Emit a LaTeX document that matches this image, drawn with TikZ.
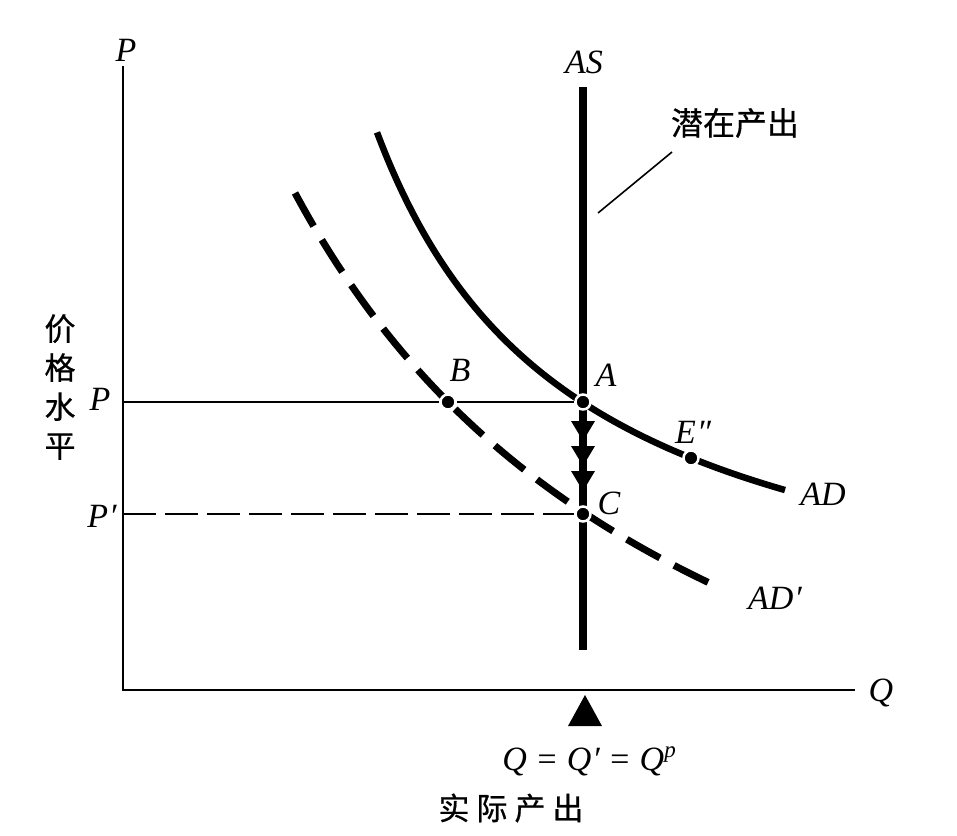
\documentclass[tikz,border=0pt]{standalone}
\usepackage{fontspec}
\setmainfont{Liberation Serif}
\newfontfamily\cjk[FakeBold=0.6]{Noto Sans CJK SC}
\begin{document}
\begin{tikzpicture}[x=1pt,y=-1pt,
  lbl/.style={font=\fontsize{34}{38}\selectfont\itshape, inner sep=0pt},
  cjklbl/.style={font=\fontsize{31}{34}\selectfont\cjk, inner sep=0pt},
  dotp/.style={circle, fill=black, draw=white, line width=2.5pt, minimum size=15pt, inner sep=0pt},
  axis/.style={line width=2.2pt},
  guide/.style={line width=1.8pt},
  curve/.style={line width=6.5pt, line cap=butt},
  tri/.style={fill=black}]
\useasboundingbox (0,0) rectangle (957,835);
% coordinates
\coordinate (O) at (123,690);
\coordinate (Ytop) at (123,66);
\coordinate (Xend) at (855,690);
\coordinate (Pl) at (123,402);
\coordinate (Ppl) at (123,514);
\coordinate (AStop) at (583,87);
\coordinate (ASbot) at (583,650);
% axes
\draw[axis] (Ytop) -- (O) -- (Xend);
% AS line
\draw[line width=8pt] (AStop) -- (ASbot);
% curves
\draw[curve] plot[domain=377:785, samples=80, smooth] (\x, {665.9 - 1070.2/((\x-176.4)/100)});
\draw[curve, line width=7pt, dash pattern=on 38pt off 16pt] plot[domain=295:720, samples=80, smooth] (\x, {983.9 - 3369.34/((\x+131)/100)});
% dots
\node[dotp] (A) at (583,402) {};
\node[dotp] (B) at (448,402) {};
\node[dotp] (C) at (583,514) {};
\node[dotp] (E) at (691,458) {};
% guide lines
\draw[guide] (Pl) -- (B) -- (A);
\draw[guide, dash pattern=on 33pt off 9pt] (Ppl) -- (C);
% arrowheads on AS
\fill[tri] (571,421) -- (595,421) -- (583,441) -- cycle;
\fill[tri] (571,446) -- (595,446) -- (583,466) -- cycle;
\fill[tri] (571,471) -- (595,471) -- (583,491) -- cycle;
% marker triangle under axis
\fill[tri] (585,695) -- (602,726) -- (568,726) -- cycle;
% labels
\node[lbl] (lP) at (126,50) {P};
\node[lbl] (lQ) at (881,693) {Q};
\node[lbl] (lAS) at (584,62) {AS};
\node[lbl] (lPa) at (100,399) {P};
\node[lbl] (lPp) at (102,516) {P\kern1pt\symbol{"2032}};
\node[lbl] (lA) at (606,375) {A};
\node[lbl] (lB) at (460,370) {B};
\node[lbl] (lC) at (609,503) {C};
\node[lbl] (lE) at (693,432) {E\kern1pt\symbol{"2033}};
\node[lbl] (lAD) at (823,494) {AD};
\node[lbl] (lADp) at (775,598) {AD\kern1pt\symbol{"2032}};
\node[lbl, anchor=center] (lQQ) at (589,761) {Q = Q\kern1pt\symbol{"2032} = Q\raisebox{13pt}{\fontsize{23}{23}\selectfont p}};
\node[cjklbl] (lreal) at (511,808) {实\hspace{7pt}际\hspace{7pt}产\hspace{7pt}出};
\node[cjklbl, font=\fontsize{32}{34}\selectfont\cjk] (lpot) at (735,123) {潜在产出};
\node[cjklbl, align=center, font=\fontsize{31}{39}\selectfont\cjk] (lprice) at (60,387) {价\\格\\水\\平};
% leader line
\coordinate (Lk) at (672,152);
\coordinate (Lj) at (598,213);
\draw[line width=1.6pt] (Lj) -- (Lk);
\end{tikzpicture}
\end{document}
